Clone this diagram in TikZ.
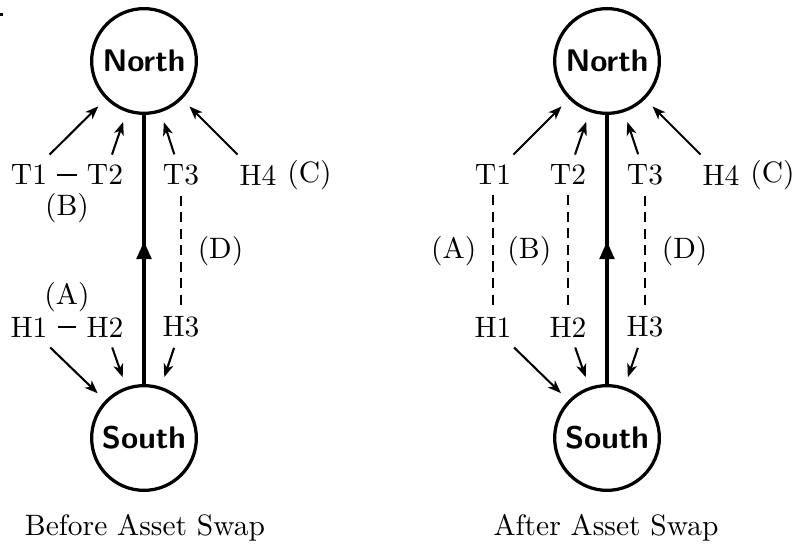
\documentclass[tikz,border=0pt]{standalone}
\usetikzlibrary{arrows.meta,decorations.markings}

\tikzset{
  hub/.style={circle, draw, line width=1.1pt, minimum size=35.5pt, inner sep=0pt,
              font=\sffamily\bfseries\fontsize{10.6}{12}\selectfont},
  leg/.style={-{Stealth[length=4.5pt,width=3.4pt,inset=1.3pt]}, line width=0.7pt, shorten >=3.5pt},
  swapline/.style={line width=0.7pt},
  pairline/.style={line width=0.7pt, dash pattern=on 3.4pt off 2.2pt},
  mainflow/.style={line width=1.1pt, postaction={decorate},
    decoration={markings, mark=at position 0.53 with {\arrow{Triangle[length=6pt,width=5pt]}}}},
  tag/.style={inner sep=0pt},
}

\begin{document}
\begin{tikzpicture}[x=0.339pt, y=-0.339pt]
  \useasboundingbox (0,0) rectangle (798,546);
  \fill (0,13) rectangle (2.5,16.5);

  % ---------- before the swap ----------
  \node[hub] (nL) at (144,61) {North};
  \node[hub] (sL) at (144,438) {South};
  \node (t1L) at (29,175) {T1};
  \node (t2L) at (105,175) {T2};
  \node (t3L) at (181,175) {T3};
  \node (h4L) at (258,175) [label={[tag]right:(C)}] {H4};
  \node (h1L) at (29,327) {H1};
  \node (h2L) at (105,327) {H2};
  \node (h3L) at (181,327) {H3};

  \draw[mainflow] (sL) -- (nL);
  \foreach \n in {t1L,t2L,t3L,h4L} \draw[leg] (\n) -- (nL);
  \foreach \n in {h1L,h2L,h3L} \draw[leg] (\n) -- (sL);
  \draw[swapline] (t1L) -- node[below=2.5pt] {(B)} (t2L);
  \draw[swapline] (h1L) -- node[above=1.5pt] {(A)} (h2L);
  \draw[pairline] (t3L) -- node[right=2pt] {(D)} (h3L);

  \node[anchor=base] (capL) at (145,535) {Before Asset Swap};

  % ---------- after the swap ----------
  \node[hub] (nR) at (607,61) {North};
  \node[hub] (sR) at (607,438) {South};
  \node (t1R) at (493,175) {T1};
  \node (t2R) at (568,175) {T2};
  \node (t3R) at (645,175) {T3};
  \node (h4R) at (721,175) [label={[tag]right:(C)}] {H4};
  \node (h1R) at (493,327) {H1};
  \node (h2R) at (568,327) {H2};
  \node (h3R) at (645,327) {H3};

  \draw[mainflow] (sR) -- (nR);
  \foreach \n in {t1R,t2R,t3R,h4R} \draw[leg] (\n) -- (nR);
  \foreach \n in {h1R,h2R,h3R} \draw[leg] (\n) -- (sR);
  \draw[pairline] (t1R) -- node[left=2pt] {(A)} (h1R);
  \draw[pairline] (t2R) -- node[left=2pt] {(B)} (h2R);
  \draw[pairline] (t3R) -- node[right=2pt] {(D)} (h3R);

  \node[anchor=base] (capR) at (606,535) {After Asset Swap};
\end{tikzpicture}
\end{document}
